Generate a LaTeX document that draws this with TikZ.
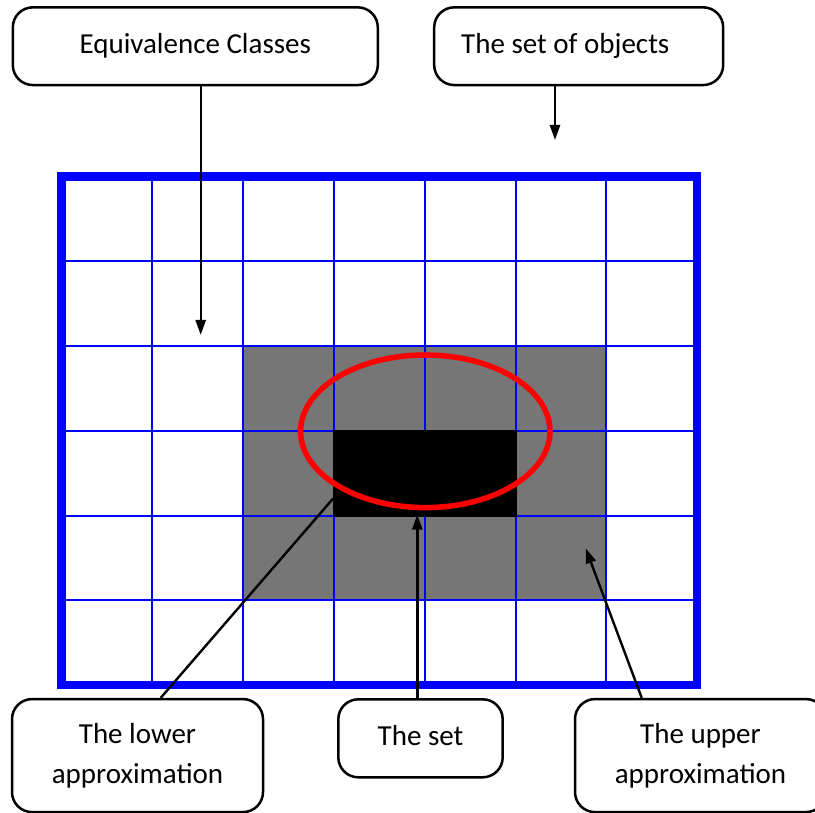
\documentclass[tikz,border=0pt]{standalone}
\usepackage{fontspec}
\setmainfont{Carlito}
\usetikzlibrary{arrows.meta}
\definecolor{cellgray}{RGB}{118,118,118}
\begin{document}
\begin{tikzpicture}[x=1pt,y=-1pt,
  box/.style={draw, line width=2.5pt, rounded corners=20pt, inner sep=0pt,
    font=\fontsize{29}{40}\selectfont, align=center},
  gridline/.style={blue, line width=2pt},
  conn/.style={line width=2.4pt},
  arr/.style={conn, -{Triangle[length=15pt,width=10pt]}}]
\useasboundingbox (0,0) rectangle (815,813);
\clip (0,0) rectangle (815,813);

% upper approximation region
\fill[cellgray] (243.1,346) rectangle (606.3,600.25);
% grid
\foreach \x in {152.3,243.1,333.9,424.7,515.5,606.3}
  \draw[gridline] (\x,176.5) -- (\x,685);
\foreach \y in {261.25,346,430.75,515.5,600.25}
  \draw[gridline] (61.5,\y) -- (697,\y);
% lower approximation region
\fill[black] (332.9,429.75) rectangle (516.5,516.5);
% the set
\draw[red, line width=5.5pt] (425.3,431.3) ellipse [x radius=124.7, y radius=76.3];
% the set of objects
\draw[blue, line width=8.5pt] (61.5,176.5) rectangle (697,685);

% label boxes
\node[box, minimum width=365, minimum height=77.7, text height=20, text depth=6] (eq) at (195.3,46.2) {Equivalence Classes};
\node[box, minimum width=289, minimum height=77.7, text height=20, text depth=6] (obj) at (578.7,46.2) {\makebox[235pt][l]{The set of objects}};
\node[box, minimum width=164.4, minimum height=78, text height=20, text depth=6] (set) at (420.5,738.3) {The set};
\node[box, minimum width=251, minimum height=113] (low) at (137.5,755.6) {The lower\\approximation};
\node[box, minimum width=251, minimum height=113] (up) at (700.5,755.6) {The upper\\approximation};

% connector ends
\coordinate (eqend) at (200.7,335);
\coordinate (objend) at (555,140);
\coordinate (setend) at (417.3,514.5);
\coordinate (lowend) at (333.3,498.3);
\coordinate (upend) at (585.7,548.3);

\draw[arr] ([xshift=5.4pt]eq.south) -- (eqend);
\draw[arr] ([xshift=-23.7pt]obj.south) -- (objend);
\draw[arr] ([xshift=-3.2pt]set.north) -- (setend);
\draw[conn] ([xshift=23.2pt]low.north) -- (lowend);
\draw[arr] ([xshift=-58.8pt]up.north) -- (upend);
\end{tikzpicture}
\end{document}
